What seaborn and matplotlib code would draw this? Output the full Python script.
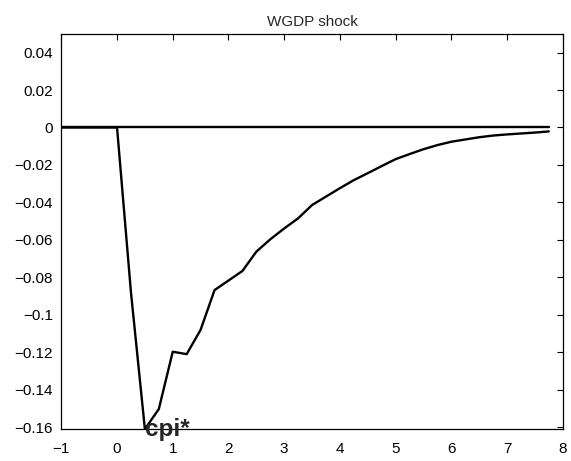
import matplotlib
matplotlib.use("Agg")
import matplotlib.pyplot as plt
import seaborn as sns
import pandas as pd
import numpy as np
from matplotlib.ticker import FuncFormatter, MultipleLocator

sns.set_style("white")
plt.rcParams['font.family'] = ['Liberation Sans', 'DejaVu Sans']

quarters = [-1.0, -0.75, -0.5, -0.25, 0.0, 0.25, 0.5, 0.75, 1.0, 1.25, 1.5, 1.75,
            2.0, 2.25, 2.5, 2.75, 3.0, 3.25, 3.5, 3.75, 4.0, 4.25, 4.5, 4.75,
            5.0, 5.25, 5.5, 5.75, 6.0, 6.25, 6.5, 6.75, 7.0, 7.25, 7.5, 7.75]
response = [0.0, 0.0, 0.0, 0.0, 0.0, -0.088, -0.161, -0.1503, -0.1197, -0.121,
            -0.108, -0.0868, -0.0817, -0.0766, -0.0663, -0.0597, -0.0539, -0.0485,
            -0.0414, -0.0369, -0.0324, -0.0281, -0.0244, -0.0206, -0.0169, -0.0142,
            -0.0116, -0.0094, -0.0076, -0.0064, -0.0052, -0.0043, -0.0037, -0.0032,
            -0.0027, -0.0021]
zero_line = [0.0] * len(quarters)
title = "WGDP shock"
label = "cpi*"

df = pd.DataFrame({"t": quarters, "resp": response, "zero": zero_line})

fig = plt.figure(figsize=(5.71, 4.61), dpi=100)
ax = fig.add_axes([0.1074, 0.0688, 0.8781, 0.8574])

sns.lineplot(data=df, x="t", y="zero", ax=ax, color="black", linewidth=1.7)
sns.lineplot(data=df, x="t", y="resp", ax=ax, color="black", linewidth=1.7)

ax.set_xlim(-1, 8)
ax.set_ylim(-0.1611, 0.0499)
ax.xaxis.set_major_locator(MultipleLocator(1))
ax.set_yticks([0.04, 0.02, 0, -0.02, -0.04, -0.06, -0.08, -0.1, -0.12, -0.14, -0.16])

def fmt(v, pos):
    s = f"{v:.2f}".rstrip('0').rstrip('.')
    if s in ("-0", "0.0"):
        s = "0"
    return s.replace('-', '\u2212')

ax.yaxis.set_major_formatter(FuncFormatter(fmt))
ax.xaxis.set_major_formatter(FuncFormatter(fmt))
ax.set_xlabel("")
ax.set_ylabel("")
ax.tick_params(direction="in", length=4, width=0.8, top=True, right=True,
               labelsize=11, colors="black")
ax.tick_params(axis="y", pad=6)
ax.tick_params(axis="x", pad=9)
for sp in ax.spines.values():
    sp.set_visible(True)
    sp.set_color("black")
    sp.set_linewidth(0.9)

ax.set_title(title, fontsize=11, pad=6)
ax.text(0.5, -0.1611, label, fontsize=17.5, fontweight="bold", ha="left", va="center",
        clip_on=False)

fig.savefig("out.png", dpi=100)
